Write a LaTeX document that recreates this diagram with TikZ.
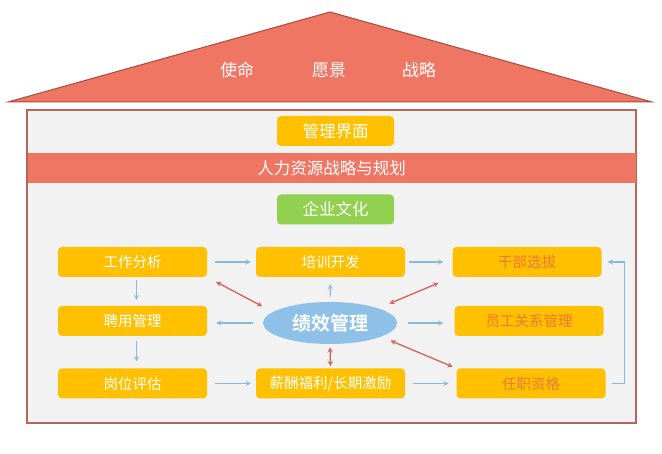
\documentclass[tikz,border=0pt]{standalone}
\usepackage{fontspec}
\newfontfamily\cjk{Noto Sans CJK SC}[BoldFont={Noto Sans CJK SC Bold}]
\usetikzlibrary{shapes.geometric}
\definecolor{roofred}{RGB}{240,118,100}
\definecolor{roofline}{RGB}{168,74,62}
\definecolor{framefill}{RGB}{242,242,242}
\definecolor{gold}{RGB}{255,192,0}
\definecolor{leaf}{RGB}{146,208,80}
\definecolor{sky}{RGB}{143,193,232}
\definecolor{flowblue}{RGB}{136,186,224}
\definecolor{linkred}{RGB}{208,100,90}
\definecolor{rust}{RGB}{236,122,52}

\begin{document}
\begin{tikzpicture}[font=\cjk,>=stealth,x=1pt,y=-1pt]
    \tikzset{
        box/.style={
            fill=gold,
            rounded corners=4pt,
            minimum width=149pt,
            minimum height=30pt,
            text=white,
            inner sep=0pt,
            font=\cjk\fontsize{14.5}{16}\selectfont
        },
        rbox/.style={box,text=rust},
        head/.style={box,minimum width=117pt,font=\cjk\fontsize{16.5}{18}\selectfont},
        flow/.style={->,flowblue,line width=1.2pt},
        link/.style={<->,linkred,line width=1.3pt}
    }
    \useasboundingbox (0,0) rectangle (662,454);

    \draw[fill=roofred,draw=roofline,line width=1pt] (8,102) -- (330,12) -- (652,102) -- cycle;
    \node[text=white,font=\cjk\fontsize{17}{19}\selectfont] (mission) at (237,70) {使命};
    \node[text=white,font=\cjk\fontsize{17}{19}\selectfont] (vision) at (329,70) {愿景};
    \node[text=white,font=\cjk\fontsize{17}{19}\selectfont] (strategy) at (419,70) {战略};

    \draw[fill=framefill,draw=roofline!85!white,line width=1.2pt] (27,110) rectangle (636,423);

    \node[head] (mgmt) at (335.5,131) {管理界面};
    \node[fill=roofred,minimum width=608pt,minimum height=30pt,inner sep=0pt,
        text=white,font=\cjk\fontsize{16.5}{18}\selectfont] (plan) at (331.5,168) {人力资源战略与规划};
    \node[head,fill=leaf] (culture) at (335.5,209.5) {企业文化};

    \node[box] (ana) at (132.5,262) {工作分析};
    \node[box] (hire) at (132.5,321) {聘用管理};
    \node[box] (eval) at (132.5,383.5) {岗位评估};
    \node[box] (train) at (330.5,262) {培训开发};
    \node[box] (pay) at (330.5,383.5) {薪酬福利/长期激励};
    \node[rbox] (cadre) at (527,262) {干部选拔};
    \node[rbox] (rel) at (529,321) {员工关系管理};
    \node[rbox] (qual) at (531,383.5) {任职资格};
    \node[ellipse,fill=sky,minimum width=134pt,minimum height=42pt,inner sep=0pt,
        text=white,font=\cjk\bfseries\fontsize{19}{21}\selectfont] (perf) at (330,323) {绩效管理};

    \draw[flow,shorten <=8pt,shorten >=5pt] (ana.east) -- (train.west);
    \draw[flow,shorten <=4pt,shorten >=9pt] (train.east) -- (cadre.west);
    \draw[flow,shorten <=3pt,shorten >=6pt] ([xshift=4pt]ana.south) -- ([xshift=4pt]hire.north);
    \draw[flow,shorten <=5pt,shorten >=7pt] ([xshift=4pt]hire.south) -- ([xshift=4pt]eval.north);
    \draw[flow,shorten <=8pt,shorten >=5pt] (eval.east) -- (pay.west);
    \draw[flow,shorten <=8pt,shorten >=8pt] (pay.east) -- (qual.west);
    \draw[flow,shorten <=10pt,shorten >=9pt] (perf.west) -- (perf.west -| hire.east);
    \draw[flow,shorten <=11pt,shorten >=11pt] (perf.east) -- (perf.east -| rel.west);
    \draw[flow,shorten <=5pt,shorten >=7pt] (perf.north) -- (train.south);
    \draw[flow,shorten <=6pt,shorten >=6pt] (qual.east) -- ++(19,0) |- (cadre.east);

    \draw[link,shorten <=10pt,shorten >=12pt] (ana.south east) -- (perf.169);
    \draw[link,shorten <=12pt,shorten >=15pt] (perf.17) -- (cadre.south west);
    \draw[link,shorten <=10pt,shorten >=4pt] (perf.345) -- (qual.north west);
    \draw[link,shorten <=3pt,shorten >=2pt] (perf.south) -- (pay.north);
\end{tikzpicture}
\end{document}
